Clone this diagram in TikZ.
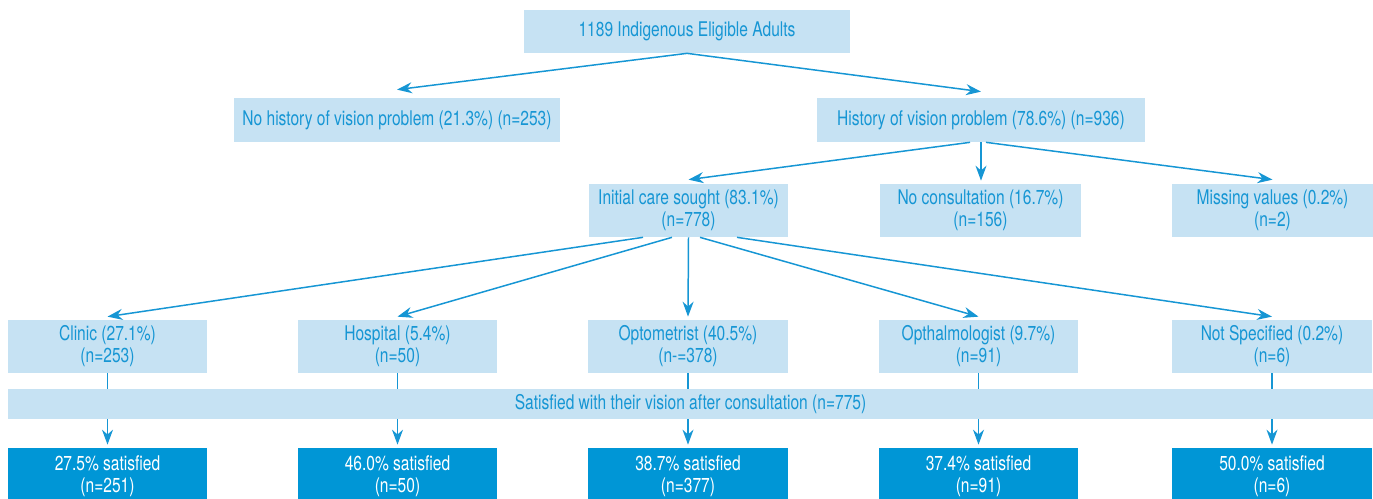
\documentclass[tikz,border=0pt]{standalone}
\usepackage{fontspec}
\setmainfont{TeX Gyre Heros}[FakeStretch=0.77]
\usetikzlibrary{arrows.meta}

\definecolor{paleblue}{RGB}{198,226,243}
\definecolor{lineblue}{RGB}{22,150,212}
\definecolor{deepblue}{RGB}{0,150,214}

\tikzset{
  lbox/.style={fill=paleblue, text=lineblue, inner sep=0pt, align=center,
    font=\fontsize{11.5}{12.5}\selectfont},
  dbox/.style={fill=deepblue, text=white, inner sep=0pt, align=center,
    font=\fontsize{11.5}{12.5}\selectfont},
  arr/.style={draw=lineblue, line width=0.85pt, -{Stealth[length=0.3cm,width=0.22cm]}},
  ln/.style={draw=lineblue, line width=0.85pt}
}

\begin{document}
\begin{tikzpicture}[x=0.02cm,y=-0.02cm]
\clip (0,0) rectangle (1373,499);
% top levels
\node[lbox, minimum width=6.52cm, minimum height=0.86cm] (adults) at (687,31.5) {1189 Indigenous Eligible Adults};
\node[lbox, minimum width=6.52cm, minimum height=0.88cm] (nohist) at (397,120) {No history of vision problem (21.3\%) (n=253)};
\node[lbox, minimum width=6.56cm, minimum height=0.88cm] (hist) at (981,120) {History of vision problem (78.6\%) (n=936)};
\node[lbox, minimum width=3.98cm, minimum height=1.06cm] (init) at (688.5,210.5) {Initial care sought (83.1\%)\\(n=778)};
\node[lbox, minimum width=4.02cm, minimum height=1.06cm] (nocons) at (980.5,210.5) {No consultation (16.7\%)\\(n=156)};
\node[lbox, minimum width=4.02cm, minimum height=1.06cm] (missing) at (1272.5,210.5) {Missing values (0.2\%)\\(n=2)};
\draw[arr] (adults.south) -- ([yshift=0.16cm]nohist.north);
\draw[arr] (adults.south) -- ([yshift=0.12cm]hist.north);
\draw[arr] ([xshift=-0.22cm]hist.south) -- ([yshift=0.08cm]init.north);
\draw[arr] (hist.south) -- ([yshift=0.06cm]hist.south |- nocons.north);
\draw[arr] ([xshift=0.1cm]hist.south) -- ([yshift=0.08cm]missing.north);
% satisfied bar
\node[lbox, minimum width=27.3cm, minimum height=0.6cm] (bar) at (690.5,404) {Satisfied with their vision after consultation (n=775)};
% care types and results
\foreach \i/\x/\s/\lab/\n/\pc/\m in {
  1/107.5/-0.91/Clinic (27.1\%)/n=253/27.5/251,
  2/397.5/-0.33/Hospital (5.4\%)/n=50/46.0/50,
  3/688/0/Optometrist (40.5\%)/n-=378/38.7/377,
  4/978.5/0.23/Opthalmologist (9.7\%)/n=91/37.4/91,
  5/1272/0.97/Not Specified (0.2\%)/n=6/50.0/6} {
\node[lbox, minimum width=4cm, minimum height=1.06cm] (care\i) at (\x,346.5) {\lab\\(\n)};
\node[dbox, minimum width=4cm, minimum height=1.12cm] (sat\i) at (\x,476) {\pc\% satisfied\\(n=\m)};
\draw[arr] ([xshift=\s cm]init.south) -- ([yshift=0.06cm]care\i.north);
\draw[ln] (care\i.south) -- (care\i.south |- bar.north);
\draw[arr] (care\i.south |- bar.south) -- ([yshift=0.06cm]sat\i.north);
}
\end{tikzpicture}
\end{document}
